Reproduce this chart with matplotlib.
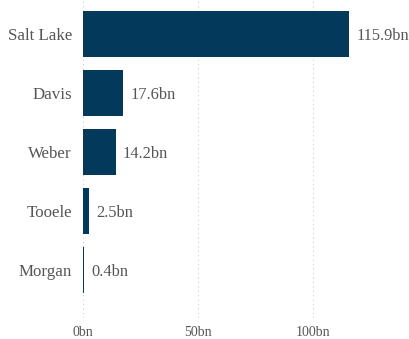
import matplotlib.pyplot as plt

# County values in billions
counties = ["Salt Lake", "Davis", "Weber", "Tooele", "Morgan"]
values = [115.9, 17.6, 14.2, 2.5, 0.4]
ticks = [0, 50, 100]
tick_labels = ["0bn", "50bn", "100bn"]

plt.rcParams["font.family"] = ["Liberation Serif", "DejaVu Serif"]

fig = plt.figure(figsize=(4.10, 3.39), dpi=100)
ax = fig.add_axes([83 / 410, 21 / 339, 317 / 410, 318 / 339])

pos = range(len(counties))
ax.barh(pos, values, height=0.78, color="#033a5c", zorder=2)

for y, v in zip(pos, values):
    ax.text(v + 3.2, y + 0.03, f"{v}bn", va="center", ha="left",
            fontsize=11.8, color="#555555")

ax.set_yticks(list(pos))
ax.set_yticklabels(counties, fontsize=12.2, color="#555555")
ax.set_xticks(ticks)
ax.set_xticklabels(tick_labels, fontsize=10, color="#555555")
ax.set_xlim(0, 138)
ax.set_ylim(4.81, -0.576)

ax.tick_params(axis="both", length=0)
ax.tick_params(axis="y", pad=8)
ax.tick_params(axis="x", pad=6)
ax.grid(axis="x", color="#cccccc", linestyle=(0, (1, 3)), linewidth=0.8, zorder=0)
for s in ax.spines.values():
    s.set_visible(False)

fig.savefig("out.png", dpi=100)
